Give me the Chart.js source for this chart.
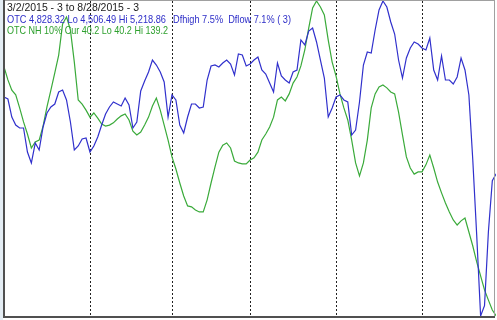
<!DOCTYPE html>
<html>
<head>
<meta charset="utf-8">
<script src="https://cdn.jsdelivr.net/npm/chart.js@4/dist/chart.umd.min.js"></script>
<style>
  html, body { margin: 0; padding: 0; background: #ffffff; overflow: hidden; }
  #wrap { position: relative; width: 497px; height: 320px; }
  #c { position: absolute; left: 0; top: 0; }
  .hdr { position: absolute; font-family: "Liberation Sans", Arial, sans-serif; font-size: 11px; line-height: 11px; white-space: pre; transform-origin: 0 0; }
</style>
</head>
<body>
<div id="wrap">
  <canvas id="c" width="497" height="320"></canvas>
  <div class="hdr" id="l1" style="left:7px;top:2px;color:#1a1a1a;"></div>
  <div class="hdr" id="l2a" style="left:7px;top:14px;color:#2e2ec8;"></div>
  <div class="hdr" id="l2b" style="left:173px;top:14px;color:#2e2ec8;"></div>
  <div class="hdr" id="l3" style="left:7px;top:25px;color:#2ea02e;"></div>
</div>
<script>
// Trading days 3/2/2015 .. 8/28/2015 (index 0..126)
const monthStartIdx = [22, 43, 63, 85, 107]; // Apr 1, May 1, Jun 1, Jul 1, Aug 3

// OTC composite close
const otc = [
  5001.8, 4997.2, 4956.5, 4938.4, 4931.7, 4931.7, 4877.4, 4852.5, 4897.7, 4881.9,
  4933.9, 4965.6, 4979.2, 4985.9, 5013.1, 5017.6, 4995.0, 4945.2, 4881.9, 4891.0,
  4906.8, 4909.0, 4877.4, 4891.0, 4911.3, 4938.4, 4963.3, 4979.2, 4990.5, 4985.9,
  4981.4, 4999.5, 4983.7, 4931.7, 4945.2, 5015.3, 5038.0, 5058.3, 5085.4, 5074.1,
  5058.3, 5035.7, 4956.5, 5006.3, 4995.0, 4938.4, 4920.4, 4956.5, 4985.9, 4985.9,
  4976.9, 4979.2, 5040.2, 5071.9, 5074.1, 5069.6, 5078.7, 5085.4, 5076.4, 5051.5,
  5099.0, 5096.8, 5071.9, 5076.4, 5085.4, 5092.2, 5062.8, 5053.8, 5033.4, 5013.1,
  5078.7, 5049.3, 5040.2, 5033.4, 5058.3, 5062.8, 5130.7, 5119.4, 5151.0, 5157.8,
  5126.2, 5085.4, 5044.7, 4956.5, 4976.9, 5001.8, 5006.3, 4995.0, 4990.5, 4915.8,
  4927.1, 4990.5, 5074.1, 5103.5, 5101.3, 5153.3, 5198.5, 5218.86, 5205.3, 5171.4,
  5144.2, 5085.4, 5044.7, 5090.0, 5112.6, 5126.2, 5121.6, 5112.6, 5108.1, 5135.2,
  5062.8, 5040.2, 5094.5, 5040.2, 5040.2, 5031.2, 5047.0, 5090.0, 5062.8, 5006.3,
  4859.3, 4689.7, 4506.49, 4530.0, 4697.5, 4812.7, 4828.32
];

// OTC NH 10% indicator
const nh = [
  118.5, 114.4, 111.2, 109.7, 105.6, 101.2, 97.4, 93.0, 94.9, 95.5,
  99.9, 105.9, 111.2, 116.6, 122.2, 132.0, 134.2, 130.1, 120.0, 108.1,
  106.8, 104.9, 102.7, 104.0, 102.4, 100.5, 99.9, 100.2, 100.9, 102.1,
  103.1, 103.7, 101.8, 98.3, 97.1, 98.0, 100.2, 102.7, 106.2, 108.7,
  104.9, 100.2, 95.5, 90.2, 86.4, 82.0, 77.9, 74.8, 74.5, 73.5,
  72.9, 72.9, 76.7, 82.0, 87.0, 91.7, 93.9, 94.6, 93.0, 88.9,
  88.3, 88.0, 88.0, 89.2, 89.9, 91.7, 95.5, 97.4, 99.6, 102.7,
  108.1, 109.0, 107.8, 110.0, 113.4, 115.3, 118.8, 123.8, 130.7, 137.0,
  139.2, 137.3, 134.8, 126.9, 120.0, 115.6, 110.0, 105.6, 101.8, 95.5,
  88.3, 84.2, 88.3, 95.5, 105.6, 110.0, 112.2, 112.8, 111.9, 110.6,
  110.0, 104.3, 97.1, 90.2, 86.7, 84.8, 85.5, 85.5, 87.7, 90.8,
  86.7, 82.3, 78.9, 75.7, 72.9, 70.4, 68.8, 70.1, 71.0, 66.6,
  62.2, 57.2, 52.8, 48.4, 45.2, 42.1, 40.2
];

const titleLine = "3/2/2015 - 3 to 8/28/2015 - 3";
const otcLineA = "OTC 4,828.32 Lo 4,506.49 Hi 5,218.86";
const otcLineB = "Dfhigh 7.5%  Dflow 7.1% ( 3)";
const nhLine = "OTC NH 10% Cur 40.2 Lo 40.2 Hi 139.2";

// text, and the width (px) each line occupies in the original
const hdr = [
  ['l1', titleLine, 132],
  ['l2a', otcLineA, 159],
  ['l2b', otcLineB, 118],
  ['l3', nhLine, 161]
];
hdr.forEach(([id, txt, w]) => {
  const el = document.getElementById(id);
  el.textContent = txt;
  const natural = el.getBoundingClientRect().width;
  if (natural > 0) el.style.transform = 'scaleX(' + (w / natural) + ')';
});

const otcMin = Math.min(...otc), otcMax = Math.max(...otc);
const nhMin = Math.min(...nh), nhMax = Math.max(...nh);

const framePlugin = {
  id: 'frame',
  beforeDatasetsDraw(chart) {
    const ctx = chart.ctx, a = chart.chartArea, xs = chart.scales.x;
    ctx.save();
    ctx.strokeStyle = '#222';
    ctx.lineWidth = 1;
    ctx.setLineDash([2, 2]);
    monthStartIdx.forEach(i => {
      const px = Math.round(xs.getPixelForValue(i)) + 0.5;
      ctx.beginPath();
      ctx.moveTo(px, a.top);
      ctx.lineTo(px, a.bottom);
      ctx.stroke();
    });
    ctx.restore();
  },
  afterDraw(chart) {
    const ctx = chart.ctx, a = chart.chartArea;
    ctx.save();
    ctx.fillStyle = '#e4edf4';
    ctx.fillRect(0, 0, 3, 320);
    ctx.strokeStyle = '#a0a0a0';
    ctx.lineWidth = 1;
    ctx.beginPath();
    ctx.moveTo(a.left, 0.5); ctx.lineTo(a.right + 1, 0.5);
    ctx.moveTo(a.right + 0.5, 0); ctx.lineTo(a.right + 0.5, a.bottom + 1);
    ctx.stroke();
    ctx.strokeStyle = '#505050';
    ctx.lineWidth = 2;
    ctx.beginPath();
    ctx.moveTo(a.left, 0); ctx.lineTo(a.left, a.bottom + 1);
    ctx.moveTo(a.left - 1, a.bottom + 1); ctx.lineTo(a.right + 1, a.bottom + 1);
    ctx.stroke();
    ctx.restore();
  }
};

new Chart(document.getElementById('c'), {
  type: 'line',
  data: {
    datasets: [
      {
        label: 'OTC',
        data: otc.map((v, i) => ({ x: i, y: v })),
        borderColor: '#3030cc',
        borderWidth: 1.2,
        pointRadius: 0,
        tension: 0,
        yAxisID: 'y',
        clip: 2
      },
      {
        label: 'OTC NH 10%',
        data: nh.map((v, i) => ({ x: i, y: v })),
        borderColor: '#3aaa3a',
        borderWidth: 1.2,
        pointRadius: 0,
        tension: 0,
        yAxisID: 'y2',
        clip: 2
      }
    ]
  },
  options: {
    responsive: false,
    animation: false,
    layout: { padding: { left: 4, top: 1, right: 3, bottom: 4 } },
    plugins: { legend: { display: false }, tooltip: { enabled: false } },
    scales: {
      x: { type: 'linear', min: 0, max: 125.43, display: false },
      y: { min: otcMin, max: otcMax, display: false },
      y2: { min: nhMin, max: nhMax, display: false }
    }
  },
  plugins: [framePlugin]
});
</script>
</body>
</html>
